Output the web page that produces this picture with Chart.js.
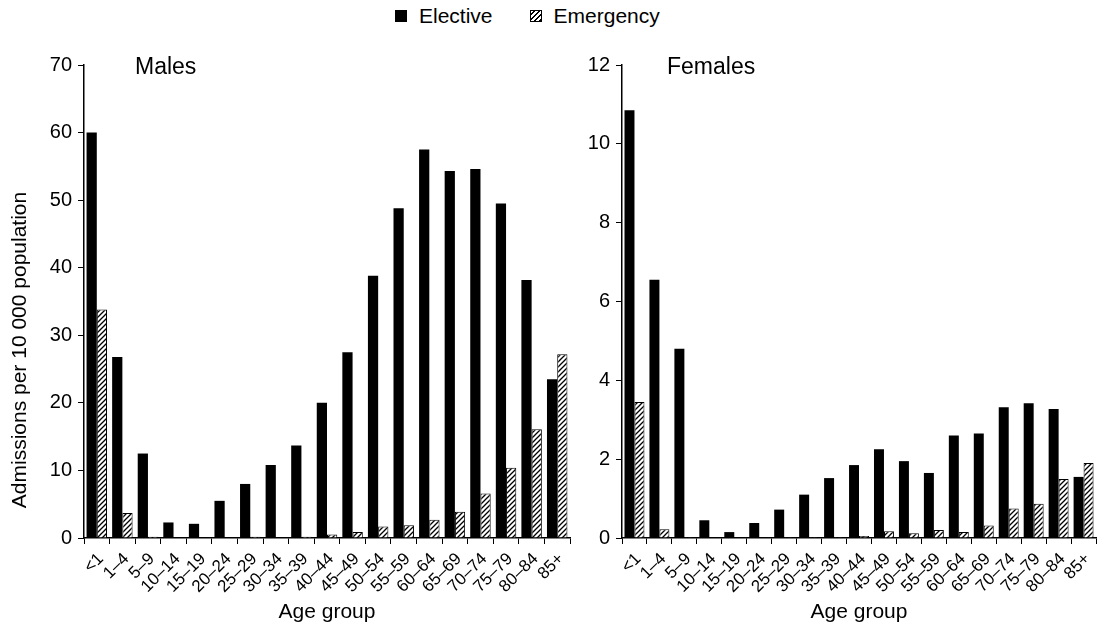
<!DOCTYPE html>
<html>
<head>
<meta charset="utf-8">
<script src="https://cdn.jsdelivr.net/npm/chart.js@4"></script>
<style>
  body { margin: 0; background: #fff; font-family: 'Liberation Sans', Arial, sans-serif; }
  #wrap { position: relative; width: 1103px; height: 625px; overflow: hidden; }
  #left { position: absolute; left: 0; top: 0; }
  #right { position: absolute; left: 580px; top: 0; }
  #legend { position: absolute; top: 4px; left: 395px; font-size: 21px; color: #000; display: flex; align-items: center; }
  .sw { display: inline-block; width: 12px; height: 12px; margin-right: 12px; box-sizing: border-box; }
  .sw.el { background: #000; }
  .sw.em { border: 1.5px solid #000; background: repeating-linear-gradient(135deg, #fff 0 2px, #000 2px 3.4px); }
</style>
</head>
<body>
<div id="wrap">
  <div id="legend"><span class="sw el"></span>Elective<span style="width:37px"></span><span class="sw em"></span>Emergency</div>
  <canvas id="left" width="580" height="625"></canvas>
  <canvas id="right" width="523" height="625"></canvas>
</div>
<script>
const ageGroups = ['<1', '1–4', '5–9', '10–14', '15–19', '20–24', '25–29', '30–34', '35–39', '40–44',
  '45–49', '50–54', '55–59', '60–64', '65–69', '70–74', '75–79', '80–84', '85+'];

// Males, admissions per 10 000
const maleElective = [60, 26.8, 12.5, 2.3, 2.1, 5.5, 8, 10.8, 13.7, 20, 27.5, 38.8, 48.8, 57.5, 54.3, 54.6, 49.5, 38.2, 23.5];
const maleEmergency = [33.8, 3.7, 0.2, 0, 0.1, 0.1, 0.2, 0.1, 0.2, 0.5, 0.9, 1.7, 1.9, 2.7, 3.9, 6.6, 10.4, 16.1, 27.2];

// Females
const femaleElective = [10.85, 6.55, 4.8, 0.45, 0.15, 0.38, 0.72, 1.1, 1.52, 1.85, 2.25, 1.95, 1.65, 2.6, 2.65, 3.32, 3.42, 3.27, 1.55];
const femaleEmergency = [3.45, 0.22, 0.02, 0, 0, 0.01, 0.02, 0.02, 0.02, 0.05, 0.17, 0.12, 0.2, 0.15, 0.32, 0.75, 0.87, 1.5, 1.9];

const fontFam = "'Liberation Sans', Arial, sans-serif";

function hatch() {
  const c = document.createElement('canvas');
  c.width = 5; c.height = 5;
  const g = c.getContext('2d');
  g.fillStyle = '#fff';
  g.fillRect(0, 0, 5, 5);
  g.strokeStyle = '#000';
  g.lineWidth = 1.3;
  g.beginPath();
  g.moveTo(0, 5); g.lineTo(5, 0);
  g.moveTo(-1, 1); g.lineTo(1, -1);
  g.moveTo(4, 6); g.lineTo(6, 4);
  g.stroke();
  return g.createPattern(c, 'repeat');
}

// panel name inside the plot area, and the y title centred on the whole figure height
const panelText = {
  id: 'panelText',
  afterDraw(chart, args, opts) {
    const { ctx, chartArea } = chart;
    ctx.save();
    ctx.fillStyle = '#000';
    ctx.textBaseline = 'middle';
    ctx.font = '23px ' + fontFam;
    ctx.fillText(opts.text, chartArea.left + opts.dx, chartArea.top + 3);
    if (opts.yTitle) {
      ctx.translate(20, 350);
      ctx.rotate(-Math.PI / 2);
      ctx.textAlign = 'center';
      ctx.font = '21px ' + fontFam;
      ctx.fillText(opts.yTitle, 0, 0);
    }
    ctx.restore();
  }
};

function makeChart(id, elective, emergency, cfg) {
  return new Chart(document.getElementById(id), {
    type: 'bar',
    data: {
      labels: ageGroups,
      datasets: [
        { label: 'Elective', data: elective, backgroundColor: '#000', borderWidth: 0 },
        { label: 'Emergency', data: emergency, backgroundColor: hatch(), borderColor: '#000', borderWidth: 1 }
      ]
    },
    options: {
      responsive: false,
      animation: false,
      layout: { padding: { top: 65, right: cfg.padRight, bottom: 0, left: 0 } },
      datasets: { bar: { barPercentage: 1, categoryPercentage: 0.8 } },
      plugins: {
        legend: { display: false },
        tooltip: { enabled: false },
        panelText: { text: cfg.name, dx: cfg.dx, yTitle: cfg.yTitle }
      },
      scales: {
        x: {
          grid: { display: true, drawOnChartArea: false, color: '#000', tickLength: 6, offset: true },
          border: { color: '#000', width: 1.5 },
          ticks: { color: '#000', font: { family: fontFam, size: 17 }, minRotation: 45, maxRotation: 45, autoSkip: false, padding: 5, labelOffset: 4 },
          title: { display: true, text: 'Age group', color: '#000', font: { family: fontFam, size: 21 }, padding: { top: 0, bottom: 0 } },
          afterFit: s => { s.height = 87; }
        },
        y: {
          min: 0, max: cfg.max,
          grid: { display: true, drawOnChartArea: false, color: '#000', tickLength: 6 },
          border: { color: '#000', width: 1.5 },
          ticks: { stepSize: cfg.step, color: '#000', font: { family: fontFam, size: 20 }, padding: 6 },
          afterFit: s => { s.width = cfg.yWidth; }
        }
      }
    },
    plugins: [panelText]
  });
}

makeChart('left', maleElective, maleEmergency,
  { name: 'Males', dx: 51, max: 70, step: 10, yTitle: 'Admissions per 10 000 population', yWidth: 84, padRight: 10 });
makeChart('right', femaleElective, femaleEmergency,
  { name: 'Females', dx: 45, max: 12, step: 2, yTitle: '', yWidth: 42, padRight: 0 });
</script>
</body>
</html>
